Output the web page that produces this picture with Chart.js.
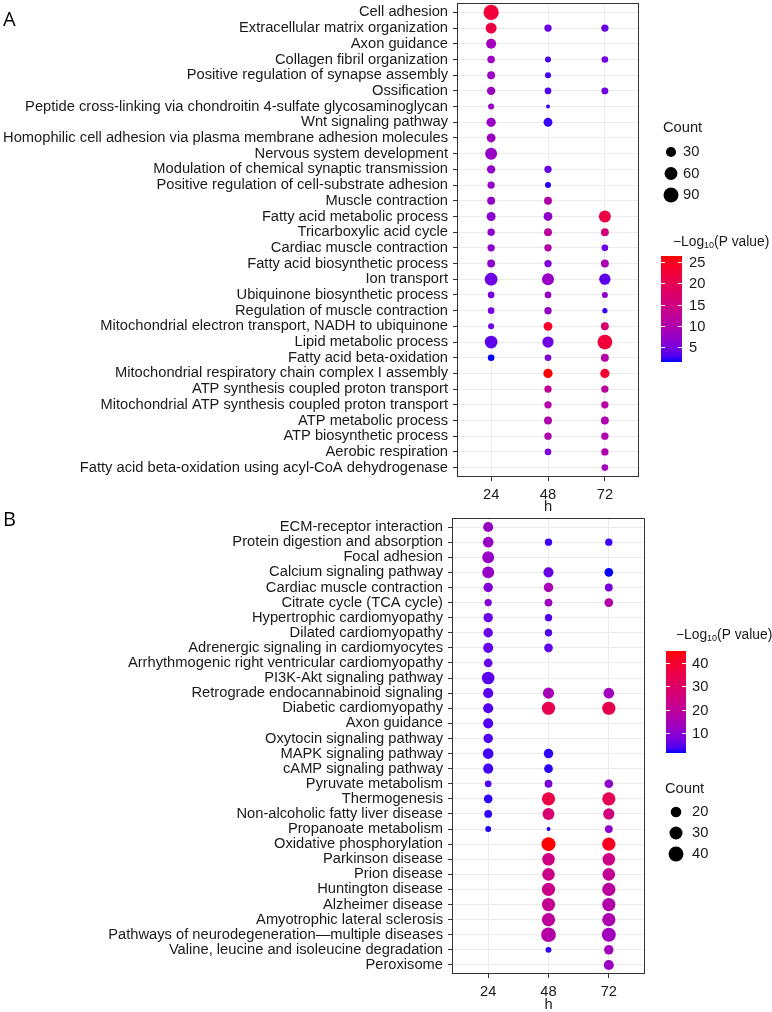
<!DOCTYPE html>
<html>
<head>
<meta charset="utf-8">
<script src="https://cdn.jsdelivr.net/npm/chart.js@4.4.1/dist/chart.umd.min.js"></script>
<style>
  body { margin: 0; background: #fff; }
  #wrap { position: relative; width: 772px; height: 1012px; }
  canvas { position: absolute; left: 0; }
  #chartA { top: 0; }
  #chartB { top: 512px; }
</style>
</head>
<body>
<div id="wrap">
  <canvas id="chartA" width="772" height="520"></canvas>
  <canvas id="chartB" width="772" height="500"></canvas>
</div>
<script>
const hours = [24, 48, 72];

// ---- panel A: GO terms ----
const termsA = [
  "Cell adhesion",
  "Extracellular matrix organization",
  "Axon guidance",
  "Collagen fibril organization",
  "Positive regulation of synapse assembly",
  "Ossification",
  "Peptide cross-linking via chondroitin 4-sulfate glycosaminoglycan",
  "Wnt signaling pathway",
  "Homophilic cell adhesion via plasma membrane adhesion molecules",
  "Nervous system development",
  "Modulation of chemical synaptic transmission",
  "Positive regulation of cell-substrate adhesion",
  "Muscle contraction",
  "Fatty acid metabolic process",
  "Tricarboxylic acid cycle",
  "Cardiac muscle contraction",
  "Fatty acid biosynthetic process",
  "Ion transport",
  "Ubiquinone biosynthetic process",
  "Regulation of muscle contraction",
  "Mitochondrial electron transport, NADH to ubiquinone",
  "Lipid metabolic process",
  "Fatty acid beta-oxidation",
  "Mitochondrial respiratory chain complex I assembly",
  "ATP synthesis coupled proton transport",
  "Mitochondrial ATP synthesis coupled proton transport",
  "ATP metabolic process",
  "ATP biosynthetic process",
  "Aerobic respiration",
  "Fatty acid beta-oxidation using acyl-CoA dehydrogenase"
];
const countA24 = [95, 38, 29, 12, 14, 17, 6, 23, 20, 49, 17, 11, 14, 21, 11, 11, 14, 58, 8, 8, 6, 58, 8, null, null, null, null, null, null, null];
const countA48 = [null, 11, null, 6, 6, 8, 3, 20, null, null, 11, 6, 14, 20, 14, 11, 11, 49, 8, 11, 20, 41, 8, 23, 11, 11, 14, 11, 8, null];
const countA72 = [null, 11, null, 8, null, 9, null, null, null, null, null, null, null, 49, 14, 8, 14, 41, 6, 4, 14, 86, 14, 23, 11, 11, 14, 11, 11, 8];
const logpA24 = [22.5, 21.5, 8.5, 8, 8, 7.8, 7.5, 7.5, 7.8, 7.5, 7.2, 7.2, 7.2, 6.3, 6.8, 6.8, 6.8, 4.3, 5, 5, 4.5, 3.5, 1.5, null, null, null, null, null, null, null];
const logpA48 = [null, 4, null, 2.5, 2.5, 3, 2.2, 2.2, null, null, 4, 1.8, 10.5, 6.8, 12, 10.5, 5.5, 7.5, 7.5, 7.5, 24, 4.5, 5.5, 26.4, 12.5, 11, 10, 10, 5.5, null];
const logpA72 = [null, 4, null, 4.5, null, 4.5, null, null, null, null, null, null, null, 21.5, 15.5, 4.3, 9.5, 3.5, 6.5, 2.2, 16.5, 22.5, 10.5, 23.5, 12, 11, 10, 10, 10, 8.5];
const sizeTicksA = [30, 60, 90];
const barTicksA = [5, 10, 15, 20, 25];

// ---- panel B: KEGG pathways ----
const termsB = [
  "ECM-receptor interaction",
  "Protein digestion and absorption",
  "Focal adhesion",
  "Calcium signaling pathway",
  "Cardiac muscle contraction",
  "Citrate cycle (TCA cycle)",
  "Hypertrophic cardiomyopathy",
  "Dilated cardiomyopathy",
  "Adrenergic signaling in cardiomyocytes",
  "Arrhythmogenic right ventricular cardiomyopathy",
  "PI3K-Akt signaling pathway",
  "Retrograde endocannabinoid signaling",
  "Diabetic cardiomyopathy",
  "Axon guidance",
  "Oxytocin signaling pathway",
  "MAPK signaling pathway",
  "cAMP signaling pathway",
  "Pyruvate metabolism",
  "Thermogenesis",
  "Non-alcoholic fatty liver disease",
  "Propanoate metabolism",
  "Oxidative phosphorylation",
  "Parkinson disease",
  "Prion disease",
  "Huntington disease",
  "Alzheimer disease",
  "Amyotrophic lateral sclerosis",
  "Pathways of neurodegeneration\u2014multiple diseases",
  "Valine, leucine and isoleucine degradation",
  "Peroxisome"
];
const countB24 = [18, 20, 25, 25, 16, 11, 16, 16, 18, 14, 28, 18, 18, 18, 16, 20, 18, 10, 14, 12, 9, null, null, null, null, null, null, null, null, null];
const countB48 = [null, 11, null, 18, 16, 12, 11, 11, 14, null, null, 22, 31, null, null, 16, 14, 12, 31, 25, 8, 35, 28, 28, 31, 31, 31, 39, 9, null];
const countB72 = [null, 11, null, 14, 12, 14, null, null, null, null, null, 20, 31, null, null, null, null, 14, 31, 22, 12, 31, 28, 28, 31, 31, 31, 35, 16, 18];
const logpB24 = [12, 12, 12, 11.5, 8.5, 9, 6, 6, 5.5, 5.5, 4.5, 4.5, 3.8, 3.8, 3.8, 3.2, 3.2, 3.8, 2.3, 2.3, 1.8, null, null, null, null, null, null, null, null, null];
const logpB48 = [null, 3, null, 5.8, 15, 13, 4, 4, 5, null, null, 14.5, 34.5, null, null, 2.2, 2.2, 7.5, 36, 28, 2, 45.1, 24.5, 23.5, 23, 21.5, 19.5, 17.5, 2.3, null];
const logpB72 = [null, 3, null, 1.4, 7.5, 17.5, null, null, null, null, null, 13.5, 34, null, null, null, null, 10.5, 33, 25.5, 10.5, 42, 23.5, 21, 19, 17, 16, 13.5, 14, 12.5];
const sizeTicksB = [20, 30, 40];
const barTicksB = [10, 20, 30, 40];

const FONT = "'Liberation Sans', Arial, sans-serif";
const TXT = '#1a1a1a';
const FS = 14.7;

// blue -> red gradient interpolated in Lab, like ggplot's default
function toLab(rgb) {
  const lin = c => { c /= 255; return c <= 0.04045 ? c / 12.92 : Math.pow((c + 0.055) / 1.055, 2.4); };
  const [R, G, B] = rgb.map(lin);
  const X = (0.4124 * R + 0.3576 * G + 0.1805 * B) / 0.95047;
  const Y = 0.2126 * R + 0.7152 * G + 0.0722 * B;
  const Z = (0.0193 * R + 0.1192 * G + 0.9505 * B) / 1.08883;
  const f = t => t > 0.008856 ? Math.cbrt(t) : 7.787 * t + 16 / 116;
  return [116 * f(Y) - 16, 500 * (f(X) - f(Y)), 200 * (f(Y) - f(Z))];
}
function fromLab([L, a, b]) {
  const fy = (L + 16) / 116, fx = fy + a / 500, fz = fy - b / 200;
  const inv = t => t * t * t > 0.008856 ? t * t * t : (t - 16 / 116) / 7.787;
  const X = 0.95047 * inv(fx), Y = inv(fy), Z = 1.08883 * inv(fz);
  const lin = [
    3.2406 * X - 1.5372 * Y - 0.4986 * Z,
    -0.9689 * X + 1.8758 * Y + 0.0415 * Z,
    0.0557 * X - 0.2040 * Y + 1.0570 * Z
  ];
  const gam = c => {
    c = Math.min(1, Math.max(0, c));
    return Math.round(255 * (c <= 0.0031308 ? 12.92 * c : 1.055 * Math.pow(c, 1 / 2.4) - 0.055));
  };
  return 'rgb(' + lin.map(gam).join(',') + ')';
}
const LOW = toLab([0, 0, 255]), HIGH = toLab([255, 0, 0]);
function colorAt(t) {
  t = Math.min(1, Math.max(0, t));
  return fromLab(LOW.map((v, i) => v + (HIGH[i] - v) * t));
}

function range(arrs) {
  const all = arrs.flat().filter(v => v != null);
  return [Math.min(...all), Math.max(...all)];
}

function radius(count, sc) {
  const f = Math.sqrt(Math.max(0, count - sc.lo) / (sc.hi - sc.lo));
  return (sc.dMin + (sc.dMax - sc.dMin) * f) / 2;
}

// panel border, letter, size legend and colour bar
const panelDeco = {
  id: 'panelDeco',
  afterDatasetsDraw(chart, args, o) {
    const { ctx, chartArea: a } = chart;
    ctx.save();
    ctx.strokeStyle = '#333';
    ctx.lineWidth = 1;
    ctx.strokeRect(Math.round(a.left) + 0.5, Math.round(a.top) + 0.5,
      Math.round(a.right - a.left) - 1, Math.round(a.bottom - a.top) - 1);
    ctx.restore();
  },
  afterDraw(chart, args, o) {
    const ctx = chart.ctx;
    ctx.save();
    ctx.fillStyle = '#000';
    ctx.textBaseline = 'middle';
    ctx.textAlign = 'left';
    ctx.font = "20px 'Open Sans', sans-serif";
    ctx.fillText(o.letter, o.letterX, o.letterY);

    // size legend
    const s = o.size;
    ctx.font = FS + 'px ' + FONT;
    ctx.fillStyle = TXT;
    ctx.fillText('Count', s.x, s.y);
    s.ticks.forEach((v, i) => {
      const y = s.y0 + i * s.dy;
      ctx.fillStyle = '#000';
      ctx.beginPath();
      ctx.arc(s.cx, y, radius(v, o.scale), 0, Math.PI * 2);
      ctx.fill();
      ctx.fillStyle = TXT;
      ctx.fillText(String(v), s.lx, y);
    });

    // colour bar
    const b = o.bar;
    let tx = b.tx;
    ctx.font = '13.8px ' + FONT;
    ctx.fillText('\u2212Log', tx, b.ty);
    tx += ctx.measureText('\u2212Log').width;
    ctx.font = '9px ' + FONT;
    ctx.fillText('10', tx, b.ty + 4);
    tx += ctx.measureText('10').width;
    ctx.font = '13.8px ' + FONT;
    ctx.fillText('(P value)', tx, b.ty);

    const grad = ctx.createLinearGradient(0, b.y + b.h, 0, b.y);
    for (let i = 0; i <= 20; i++) grad.addColorStop(i / 20, colorAt(i / 20));
    ctx.fillStyle = grad;
    ctx.fillRect(b.x, b.y, b.w, b.h);
    ctx.strokeStyle = '#fff';
    ctx.lineWidth = 1;
    ctx.font = FS + 'px ' + FONT;
    b.ticks.forEach(v => {
      const y = Math.round(b.y + b.h - (v - b.min) / (b.max - b.min) * b.h) + 0.5;
      ctx.beginPath();
      ctx.moveTo(b.x, y); ctx.lineTo(b.x + b.w / 5, y);
      ctx.moveTo(b.x + b.w - b.w / 5, y); ctx.lineTo(b.x + b.w, y);
      ctx.stroke();
      ctx.fillStyle = TXT;
      ctx.fillText(String(v), b.lx, y);
    });
    ctx.restore();
  }
};

function noPad(s) {
  s.paddingTop = 0; s.paddingBottom = 0; s.paddingLeft = 0; s.paddingRight = 0;
}

function makePanel(canvasId, terms, counts, logps, geo, scale, deco) {
  const [vmin, vmax] = range(logps);
  const datasets = hours.map((h, k) => ({
    data: terms.map((t, i) => counts[k][i] == null ? null :
      { x: h, y: i, r: radius(counts[k][i], scale), v: logps[k][i] }).filter(p => p),
    backgroundColor: c => colorAt((c.raw.v - vmin) / (vmax - vmin)),
    borderWidth: 0,
    hoverBorderWidth: 0
  }));
  deco.bar.min = vmin;
  deco.bar.max = vmax;
  deco.scale = scale;
  const H = document.getElementById(canvasId).height;
  return new Chart(document.getElementById(canvasId), {
    type: 'bubble',
    data: { datasets },
    options: {
      responsive: false,
      animation: false,
      events: [],
      layout: { autoPadding: false, padding: { left: 0, right: 772 - geo.right, top: geo.top, bottom: 0 } },
      plugins: { legend: { display: false }, tooltip: { enabled: false }, panelDeco: deco },
      scales: {
        x: {
          type: 'linear',
          min: 9.6, max: 86.4,
          afterBuildTicks: s => { s.ticks = hours.map(h => ({ value: h })); },
          afterFit: s => { s.height = H - geo.bottom; noPad(s); },
          ticks: { font: { family: FONT, size: FS }, color: TXT, padding: 5 },
          grid: { color: '#ebebeb', tickColor: '#333', tickLength: 4 },
          border: { display: false },
          title: { display: true, text: 'h', font: { family: FONT, size: FS, lineHeight: 1 }, color: TXT,
                   padding: { top: 0, bottom: geo.titlePad } }
        },
        y: {
          type: 'linear',
          reverse: true,
          min: -0.6, max: terms.length - 0.4,
          afterBuildTicks: s => { s.ticks = terms.map((t, i) => ({ value: i })); },
          afterFit: s => { s.width = geo.left; noPad(s); },
          ticks: { autoSkip: false, font: { family: FONT, size: FS }, color: TXT, padding: 5,
                   callback: v => terms[v] },
          grid: { color: '#ebebeb', tickColor: '#333', tickLength: 4 },
          border: { display: false }
        }
      }
    },
    plugins: [panelDeco]
  });
}

makePanel('chartA', termsA, [countA24, countA48, countA72], [logpA24, logpA48, logpA72],
  { left: 457, right: 639, top: 3, bottom: 477, titlePad: 6 },
  { lo: 3, hi: 100, dMin: 4, dMax: 15.6 },
  {
    letter: 'A', letterX: 3, letterY: 20,
    size: { x: 663, y: 128, cx: 671, lx: 683, y0: 152, dy: 21.5, ticks: sizeTicksA },
    bar: { tx: 673, ty: 242, x: 661, y: 256, w: 21, h: 106, lx: 689, ticks: barTicksA }
  });

makePanel('chartB', termsB, [countB24, countB48, countB72], [logpB24, logpB48, logpB72],
  { left: 452, right: 645, top: 6, bottom: 462, titlePad: 0 },
  { lo: 8, hi: 42, dMin: 4, dMax: 15.2 },
  {
    letter: 'B', letterX: 3, letterY: 8,
    size: { x: 665, y: 277, cx: 676, lx: 692, y0: 300, dy: 21, ticks: sizeTicksB },
    bar: { tx: 676, ty: 123, x: 666, y: 139, w: 20, h: 102, lx: 692, ticks: barTicksB }
  });
</script>
</body>
</html>
